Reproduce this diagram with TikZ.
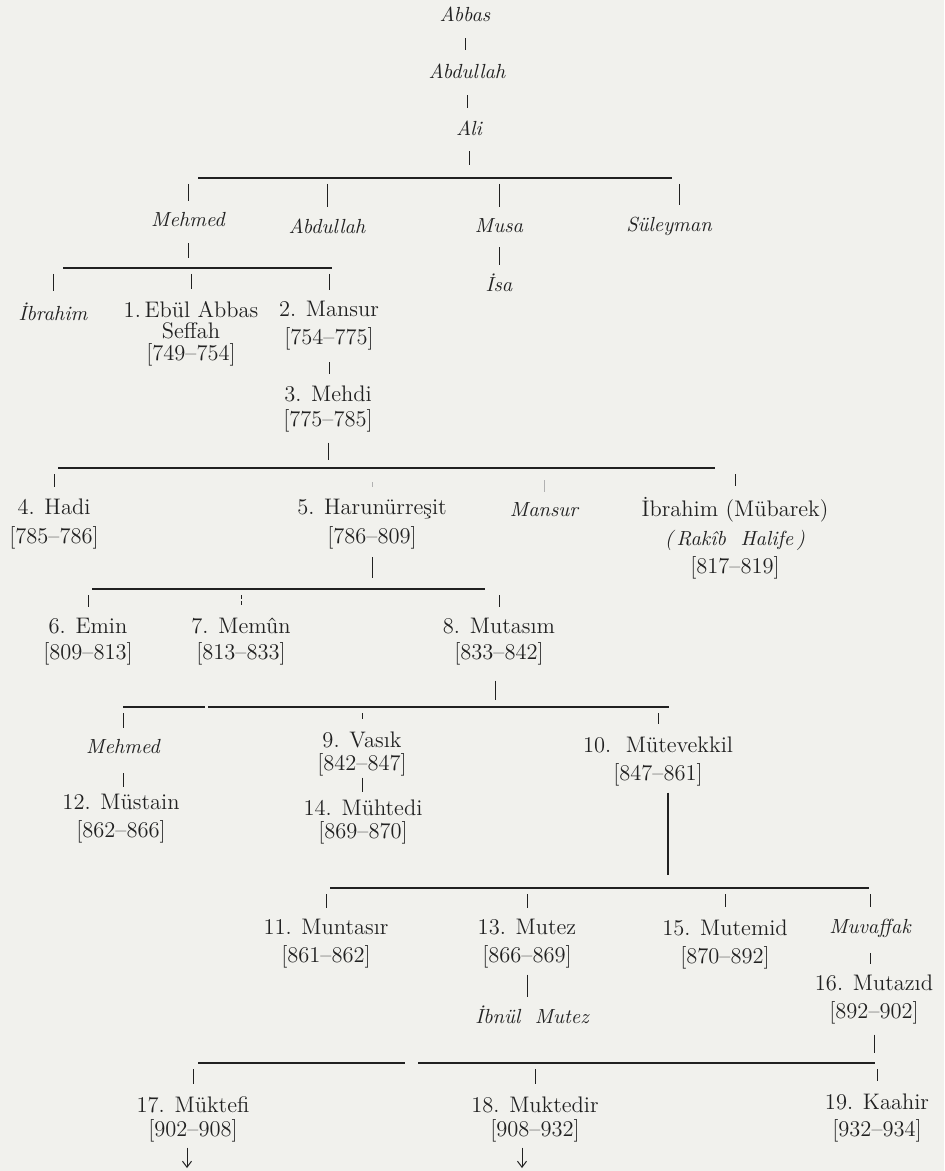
\documentclass[tikz,border=0pt]{standalone}
\usepackage{tikz}
\usetikzlibrary{arrows.meta}
\definecolor{paper}{rgb}{0.945, 0.945, 0.93}
\definecolor{ink}{rgb}{0.13, 0.13, 0.13}

\begin{document}
\begin{tikzpicture} [%
    x = 0.5pt,
    y = -0.5pt,
    color = ink,
    every node/.style = {%
      inner sep = 0pt,
      outer sep = 0pt },
    caliph/.style = {%
      align = center,
      font = \fontsize{11.25}{#1}\selectfont },
    caliph/.default = 13.5,
    kin/.style = {%
      font = \fontsize{10.2}{12}\selectfont\itshape },
    bar/.style = {%
      line width = 1pt },
    tick/.style = {%
      line width = 0.5pt,
      shorten <= 3pt,
      shorten >= 6pt },
    up/.style = {%
      line width = 0.5pt,
      shorten <= 8pt,
      shorten >= 5pt },
    link/.style = {%
      line width = 0.5pt,
      shorten <= 8.5pt,
      shorten >= 7pt },
    descent/.style = {%
      -{Straight Barb[length = 3pt, width = 4.5pt]},
      line width = 0.5pt,
      shorten <= 3pt }
  ]

  \useasboundingbox (0,0) rectangle (944,1171);
  \fill[paper] (0,0) rectangle (944,1171);

  \node[kin] (abbas) at (465,14) {Abbas};
  \node[kin] (abdullah) at (467,71) {Abdullah};
  \node[kin] (ali) at (469,128) {Ali};

  \node[kin] (mehmed) at (188,220) {Mehmed};
  \node[kin] (abdullahB) at (327,226) {Abdullah};
  \node[kin] (musa) at (499,226) {Musa};
  \node[kin] (suleyman) at (669,226) {Süleyman};
  \node[kin] (isa) at (499,283) {İsa};

  \node[kin] (ibrahim) at (53,312) {İbrahim};
  \node[caliph=10.75] (seffah) at (191,333.5) {1.\,Ebül Abbas\\Seffah\\{}[749–754]};
  \node[caliph=14] (mansur) at (329,326) {2. Mansur\\{}[754–775]};
  \node[caliph=12.5] (mehdi) at (328,409.5) {3. Mehdi\\{}[775–785]};

  \node[caliph=14.5] (hadi) at (54,524.5) {4. Hadi\\{}[785–786]};
  \node[caliph=14.5] (harun) at (372,524.5) {5. Harunürreşit\\{}[786–809]};
  \node[kin] (mansurB) at (544,510) {Mansur};
  \node[caliph=14.25] (ibrahimB) at (735,538.5)
    {İbrahim (Mübarek)\\\textit{\fontsize{10.2}{12}\selectfont(\,Rakîb\ \ Halife\,)}\\{}[817–819]};

  \node[caliph=13] (emin) at (88,642) {6. Emin\\{}[809–813]};
  \node[caliph=13] (memun) at (241,642) {7. Memûn\\{}[813–833]};
  \node[caliph=13] (mutasim) at (499,642) {8. Mutasım\\{}[833–842]};

  \node[kin] (mehmedB) at (123,747) {Mehmed};
  \node[caliph=11.5] (vasik) at (362,753.5) {9. Vasık\\{}[842–847]};
  \node[caliph=14] (mutevekkil) at (658,761) {10.\ \ Mütevekkil\\{}[847–861]};
  \node[caliph=14] (mustain) at (121,819) {12. Müstain\\{}[862–866]};
  \node[caliph=11.5] (muhtedi) at (363,821.5) {14. Mühtedi\\{}[869–870]};

  \node[caliph=14] (muntasir) at (326,944) {11. Muntasır\\{}[861–862]};
  \node[caliph=14] (mutez) at (527,944) {13. Mutez\\{}[866–869]};
  \node[caliph=14] (mutemid) at (725,944) {15. Mutemid\\{}[870–892]};
  \node[kin] (muvaffak) at (870,928) {Muvaffak};
  \node[kin] (ibnul) at (532,1015) {İbnül\ \ Mutez};
  \node[caliph=14] (mutazid) at (874,999) {16. Mutazıd\\{}[892–902]};

  \node[caliph=12] (muktefi) at (193,1119) {17. Müktefi\\{}[902–908]};
  \node[caliph=12] (muktedir) at (535,1119) {18. Muktedir\\{}[908–932]};
  \node[caliph=13.5] (kaahir) at (877,1117.5) {19. Kaahir\\{}[932–934]};

  \coordinate (b1l) at (198,178);
  \coordinate (b1r) at (672,178);
  \coordinate (b2l) at (63,268);
  \coordinate (b2r) at (332,268);
  \coordinate (b3l) at (58,468);
  \coordinate (b3r) at (715,468);
  \coordinate (b4l) at (92,589);
  \coordinate (b4r) at (485,589);
  \coordinate (b5l) at (123,707);
  \coordinate (b5m) at (205,707);
  \coordinate (b5n) at (208,707);
  \coordinate (b5r) at (669,707);
  \coordinate (b6l) at (330,888);
  \coordinate (b6r) at (869,888);
  \coordinate (b7l) at (198,1063);
  \coordinate (b7m) at (405,1063);
  \coordinate (b7n) at (418,1063);
  \coordinate (b7r) at (875,1063);
  \coordinate (endA) at (187,1168);
  \coordinate (endB) at (522,1168);

  \draw[bar] (b1l) -- (b1r);
  \draw[bar] (b2l) -- (b2r);
  \draw[bar] (b3l) -- (b3r);
  \draw[bar] (b4l) -- (b4r);
  \draw[bar] (b5l) -- (b5m) (b5n) -- (b5r);
  \draw[bar] (b6l) -- (b6r);
  \draw[bar] (b7l) -- (b7m) (b7n) -- (b7r);

  \path
  (abbas) edge [link] (abbas |- abdullah.north)
  (abdullah) edge [link, shorten >= 6.5pt] (abdullah |- ali.north)
  (musa) edge [link, shorten <= 7pt, shorten >= 4.5pt] (musa |- isa.north)
  (mansur) edge [link, shorten <= 6pt, shorten >= 6pt] (mansur |- mehdi.north)
  (mehmedB) edge [link, shorten <= 9.5pt, shorten >= 4pt] (mehmedB |- mustain.north)
  (vasik) edge [link, shorten <= 1pt, shorten >= 3.5pt] (vasik |- muhtedi.north)
  (mutez) edge [link, shorten <= 3pt, shorten >= 4.5pt] (mutez |- ibnul.north)
  (muvaffak) edge [link, shorten <= 8pt, shorten >= 5pt] (muvaffak |- mutazid.north);

  \draw[up, shorten >= 6.5pt] (ali) -- (ali |- b1l);
  \draw[up] (mehmed) -- (mehmed |- b2l);
  \draw[up, shorten <= 5pt, shorten >= 4pt] (mehdi) -- (mehdi |- b3l);
  \draw[up, shorten <= 4pt, shorten >= 5.5pt] (harun) -- (harun |- b4l);
  \draw[up, shorten <= 7.5pt, shorten >= 3.5pt] ([xshift = -2pt]mutasim.south) -- ([xshift = -2pt]mutasim.south |- b5l);
  \draw[up, line width = 0.9pt, shorten <= 3.5pt, shorten >= 6.5pt] ([xshift = 5pt]mutevekkil.south) -- ([xshift = 5pt]mutevekkil.south |- b6l);
  \draw[up, shorten <= 5.5pt, shorten >= 5pt] (mutazid) -- (mutazid |- b7l);

  \foreach \kid in {mehmed, abdullahB, musa}
    \draw[tick] (\kid |- b1l) -- (\kid);
  \draw[tick] ([xshift = 5pt]suleyman.north |- b1l) -- ([xshift = 5pt]suleyman.north);
  \foreach \kid in {ibrahim, seffah, mansur}
    \draw[tick] (\kid |- b2l) -- (\kid);
  \foreach \kid in {hadi, ibrahimB}
    \draw[tick] (\kid |- b3l) -- (\kid);
  \draw[tick, ink!35, shorten <= 7pt, shorten >= 6.5pt] (harun |- b3l) -- (harun);
  \draw[tick, ink!35, shorten <= 6pt, shorten >= 5.5pt] (mansurB |- b3l) -- (mansurB);
  \foreach \kid in {emin, mutasim}
    \draw[tick] (\kid |- b4l) -- (\kid);
  \draw[tick, dash pattern = on 2pt off 1.2pt] (memun |- b4l) -- (memun);
  \foreach \kid in {mehmedB, vasik, mutevekkil}
    \draw[tick] (\kid |- b5l) -- (\kid);
  \foreach \kid in {muntasir, mutez, mutemid, muvaffak}
    \draw[tick] (\kid |- b6l) -- (\kid);
  \foreach \kid in {muktefi, muktedir, kaahir}
    \draw[tick] (\kid |- b7l) -- (\kid);

  \draw[descent] (muktefi.south -| endA) -- (endA);
  \draw[descent] (muktedir.south -| endB) -- (endB);

\end{tikzpicture}
\end{document}
